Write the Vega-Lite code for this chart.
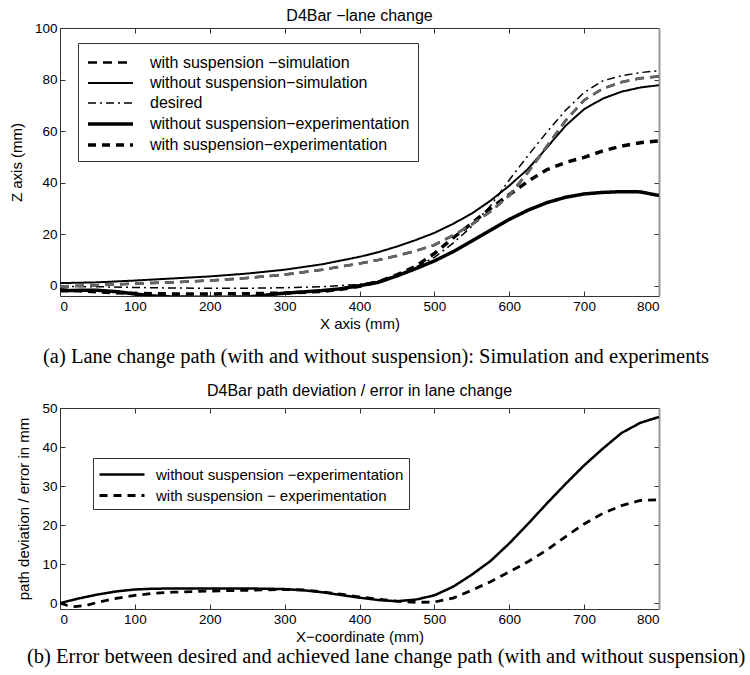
{
  "$schema": "https://vega.github.io/schema/vega-lite/v6.json",
  "background": "white",
  "padding": {"left": 9, "top": 8, "right": 5, "bottom": 5},
  "config": {
    "font": "Liberation Sans",
    "view": {"stroke": null},
    "axis": {"labelFont": "Liberation Sans", "labelFontSize": 13.5, "labelColor": "black", "titleFont": "Liberation Sans", "titleFontSize": 15, "titleFontWeight": "normal", "titleColor": "black", "domainColor": "#333", "tickColor": "#333", "tickSize": -5, "labelPadding": 8, "grid": false, "titlePadding": 4},
    "title": {"font": "Liberation Sans", "fontSize": 16, "fontWeight": "normal", "color": "black"},
    "legend": {"symbolType": "M-1,0H3.5", "symbolSize": 400, "symbolStrokeColor": "black", "labelFont": "Liberation Sans", "labelFontSize": 16, "labelColor": "black", "strokeColor": "#333", "fillColor": "white", "padding": 8, "rowPadding": 1, "labelOffset": 40, "title": null, "labelLimit": 400}
  },
  "datasets": {
    "top": [
      {"x": 0, "y": -0.3, "s": "with suspension −simulation"},
      {"x": 50, "y": 0.2, "s": "with suspension −simulation"},
      {"x": 100, "y": 0.8, "s": "with suspension −simulation"},
      {"x": 150, "y": 1.3, "s": "with suspension −simulation"},
      {"x": 200, "y": 2.0, "s": "with suspension −simulation"},
      {"x": 250, "y": 3.0, "s": "with suspension −simulation"},
      {"x": 300, "y": 4.3, "s": "with suspension −simulation"},
      {"x": 350, "y": 6.2, "s": "with suspension −simulation"},
      {"x": 400, "y": 8.6, "s": "with suspension −simulation"},
      {"x": 425, "y": 10.0, "s": "with suspension −simulation"},
      {"x": 450, "y": 11.6, "s": "with suspension −simulation"},
      {"x": 475, "y": 13.5, "s": "with suspension −simulation"},
      {"x": 500, "y": 15.8, "s": "with suspension −simulation"},
      {"x": 525, "y": 19.5, "s": "with suspension −simulation"},
      {"x": 550, "y": 23.8, "s": "with suspension −simulation"},
      {"x": 575, "y": 28.8, "s": "with suspension −simulation"},
      {"x": 600, "y": 35.0, "s": "with suspension −simulation"},
      {"x": 625, "y": 44.0, "s": "with suspension −simulation"},
      {"x": 650, "y": 54.0, "s": "with suspension −simulation"},
      {"x": 675, "y": 64.0, "s": "with suspension −simulation"},
      {"x": 700, "y": 72.0, "s": "with suspension −simulation"},
      {"x": 725, "y": 76.5, "s": "with suspension −simulation"},
      {"x": 750, "y": 79.0, "s": "with suspension −simulation"},
      {"x": 775, "y": 80.5, "s": "with suspension −simulation"},
      {"x": 800, "y": 81.2, "s": "with suspension −simulation"},
      {"x": 0, "y": 1.0, "s": "without suspension−simulation"},
      {"x": 50, "y": 1.3, "s": "without suspension−simulation"},
      {"x": 100, "y": 2.0, "s": "without suspension−simulation"},
      {"x": 150, "y": 2.8, "s": "without suspension−simulation"},
      {"x": 200, "y": 3.6, "s": "without suspension−simulation"},
      {"x": 250, "y": 4.7, "s": "without suspension−simulation"},
      {"x": 300, "y": 6.2, "s": "without suspension−simulation"},
      {"x": 350, "y": 8.3, "s": "without suspension−simulation"},
      {"x": 400, "y": 11.2, "s": "without suspension−simulation"},
      {"x": 425, "y": 13.0, "s": "without suspension−simulation"},
      {"x": 450, "y": 15.2, "s": "without suspension−simulation"},
      {"x": 475, "y": 17.7, "s": "without suspension−simulation"},
      {"x": 500, "y": 20.5, "s": "without suspension−simulation"},
      {"x": 525, "y": 24.0, "s": "without suspension−simulation"},
      {"x": 550, "y": 28.0, "s": "without suspension−simulation"},
      {"x": 575, "y": 33.0, "s": "without suspension−simulation"},
      {"x": 600, "y": 38.8, "s": "without suspension−simulation"},
      {"x": 625, "y": 45.3, "s": "without suspension−simulation"},
      {"x": 650, "y": 53.5, "s": "without suspension−simulation"},
      {"x": 675, "y": 62.0, "s": "without suspension−simulation"},
      {"x": 700, "y": 68.5, "s": "without suspension−simulation"},
      {"x": 725, "y": 72.6, "s": "without suspension−simulation"},
      {"x": 750, "y": 75.3, "s": "without suspension−simulation"},
      {"x": 775, "y": 76.9, "s": "without suspension−simulation"},
      {"x": 800, "y": 77.8, "s": "without suspension−simulation"},
      {"x": 0, "y": -0.3, "s": "desired"},
      {"x": 50, "y": -0.4, "s": "desired"},
      {"x": 100, "y": -0.7, "s": "desired"},
      {"x": 150, "y": -0.9, "s": "desired"},
      {"x": 200, "y": -1.0, "s": "desired"},
      {"x": 250, "y": -1.0, "s": "desired"},
      {"x": 300, "y": -0.8, "s": "desired"},
      {"x": 350, "y": -0.4, "s": "desired"},
      {"x": 400, "y": 0.5, "s": "desired"},
      {"x": 425, "y": 1.8, "s": "desired"},
      {"x": 450, "y": 4.0, "s": "desired"},
      {"x": 475, "y": 7.2, "s": "desired"},
      {"x": 500, "y": 11.0, "s": "desired"},
      {"x": 525, "y": 16.5, "s": "desired"},
      {"x": 550, "y": 23.0, "s": "desired"},
      {"x": 575, "y": 31.0, "s": "desired"},
      {"x": 600, "y": 41.0, "s": "desired"},
      {"x": 625, "y": 50.5, "s": "desired"},
      {"x": 650, "y": 59.5, "s": "desired"},
      {"x": 675, "y": 68.0, "s": "desired"},
      {"x": 700, "y": 75.0, "s": "desired"},
      {"x": 725, "y": 79.5, "s": "desired"},
      {"x": 750, "y": 81.5, "s": "desired"},
      {"x": 775, "y": 82.7, "s": "desired"},
      {"x": 800, "y": 83.4, "s": "desired"},
      {"x": 0, "y": -2.0, "s": "without suspension−experimentation"},
      {"x": 25, "y": -1.8, "s": "without suspension−experimentation"},
      {"x": 50, "y": -1.8, "s": "without suspension−experimentation"},
      {"x": 75, "y": -2.3, "s": "without suspension−experimentation"},
      {"x": 100, "y": -3.2, "s": "without suspension−experimentation"},
      {"x": 125, "y": -4.0, "s": "without suspension−experimentation"},
      {"x": 150, "y": -4.4, "s": "without suspension−experimentation"},
      {"x": 200, "y": -4.5, "s": "without suspension−experimentation"},
      {"x": 250, "y": -4.4, "s": "without suspension−experimentation"},
      {"x": 300, "y": -2.9, "s": "without suspension−experimentation"},
      {"x": 350, "y": -1.9, "s": "without suspension−experimentation"},
      {"x": 375, "y": -1.2, "s": "without suspension−experimentation"},
      {"x": 400, "y": 0.0, "s": "without suspension−experimentation"},
      {"x": 425, "y": 1.3, "s": "without suspension−experimentation"},
      {"x": 450, "y": 3.8, "s": "without suspension−experimentation"},
      {"x": 475, "y": 6.6, "s": "without suspension−experimentation"},
      {"x": 500, "y": 9.6, "s": "without suspension−experimentation"},
      {"x": 525, "y": 13.2, "s": "without suspension−experimentation"},
      {"x": 550, "y": 17.3, "s": "without suspension−experimentation"},
      {"x": 575, "y": 21.5, "s": "without suspension−experimentation"},
      {"x": 600, "y": 25.7, "s": "without suspension−experimentation"},
      {"x": 625, "y": 29.3, "s": "without suspension−experimentation"},
      {"x": 650, "y": 32.2, "s": "without suspension−experimentation"},
      {"x": 675, "y": 34.3, "s": "without suspension−experimentation"},
      {"x": 700, "y": 35.6, "s": "without suspension−experimentation"},
      {"x": 725, "y": 36.2, "s": "without suspension−experimentation"},
      {"x": 750, "y": 36.5, "s": "without suspension−experimentation"},
      {"x": 775, "y": 36.4, "s": "without suspension−experimentation"},
      {"x": 800, "y": 35.0, "s": "without suspension−experimentation"},
      {"x": 0, "y": -1.6, "s": "with suspension−experimentation"},
      {"x": 50, "y": -2.4, "s": "with suspension−experimentation"},
      {"x": 100, "y": -3.0, "s": "with suspension−experimentation"},
      {"x": 150, "y": -3.2, "s": "with suspension−experimentation"},
      {"x": 200, "y": -3.2, "s": "with suspension−experimentation"},
      {"x": 250, "y": -3.1, "s": "with suspension−experimentation"},
      {"x": 300, "y": -2.9, "s": "with suspension−experimentation"},
      {"x": 350, "y": -2.2, "s": "with suspension−experimentation"},
      {"x": 375, "y": -1.4, "s": "with suspension−experimentation"},
      {"x": 400, "y": -0.2, "s": "with suspension−experimentation"},
      {"x": 425, "y": 1.5, "s": "with suspension−experimentation"},
      {"x": 450, "y": 4.2, "s": "with suspension−experimentation"},
      {"x": 475, "y": 7.5, "s": "with suspension−experimentation"},
      {"x": 500, "y": 12.5, "s": "with suspension−experimentation"},
      {"x": 525, "y": 18.5, "s": "with suspension−experimentation"},
      {"x": 550, "y": 24.3, "s": "with suspension−experimentation"},
      {"x": 575, "y": 30.0, "s": "with suspension−experimentation"},
      {"x": 600, "y": 35.3, "s": "with suspension−experimentation"},
      {"x": 625, "y": 40.5, "s": "with suspension−experimentation"},
      {"x": 650, "y": 45.0, "s": "with suspension−experimentation"},
      {"x": 675, "y": 47.8, "s": "with suspension−experimentation"},
      {"x": 700, "y": 49.8, "s": "with suspension−experimentation"},
      {"x": 725, "y": 52.3, "s": "with suspension−experimentation"},
      {"x": 750, "y": 54.2, "s": "with suspension−experimentation"},
      {"x": 775, "y": 55.5, "s": "with suspension−experimentation"},
      {"x": 800, "y": 56.2, "s": "with suspension−experimentation"}
    ],
    "bottom": [
      {"x": 0, "y": 0.0, "e": "without suspension −experimentation"},
      {"x": 10, "y": 0.5, "e": "without suspension −experimentation"},
      {"x": 25, "y": 1.2, "e": "without suspension −experimentation"},
      {"x": 50, "y": 2.2, "e": "without suspension −experimentation"},
      {"x": 75, "y": 3.0, "e": "without suspension −experimentation"},
      {"x": 100, "y": 3.5, "e": "without suspension −experimentation"},
      {"x": 125, "y": 3.7, "e": "without suspension −experimentation"},
      {"x": 150, "y": 3.75, "e": "without suspension −experimentation"},
      {"x": 200, "y": 3.75, "e": "without suspension −experimentation"},
      {"x": 250, "y": 3.75, "e": "without suspension −experimentation"},
      {"x": 275, "y": 3.7, "e": "without suspension −experimentation"},
      {"x": 300, "y": 3.6, "e": "without suspension −experimentation"},
      {"x": 325, "y": 3.3, "e": "without suspension −experimentation"},
      {"x": 350, "y": 2.8, "e": "without suspension −experimentation"},
      {"x": 375, "y": 2.1, "e": "without suspension −experimentation"},
      {"x": 400, "y": 1.4, "e": "without suspension −experimentation"},
      {"x": 425, "y": 0.8, "e": "without suspension −experimentation"},
      {"x": 450, "y": 0.5, "e": "without suspension −experimentation"},
      {"x": 475, "y": 0.9, "e": "without suspension −experimentation"},
      {"x": 500, "y": 2.0, "e": "without suspension −experimentation"},
      {"x": 525, "y": 4.2, "e": "without suspension −experimentation"},
      {"x": 550, "y": 7.3, "e": "without suspension −experimentation"},
      {"x": 575, "y": 10.8, "e": "without suspension −experimentation"},
      {"x": 600, "y": 15.3, "e": "without suspension −experimentation"},
      {"x": 625, "y": 20.3, "e": "without suspension −experimentation"},
      {"x": 650, "y": 25.5, "e": "without suspension −experimentation"},
      {"x": 675, "y": 30.5, "e": "without suspension −experimentation"},
      {"x": 700, "y": 35.3, "e": "without suspension −experimentation"},
      {"x": 725, "y": 39.6, "e": "without suspension −experimentation"},
      {"x": 750, "y": 43.6, "e": "without suspension −experimentation"},
      {"x": 775, "y": 46.2, "e": "without suspension −experimentation"},
      {"x": 800, "y": 47.7, "e": "without suspension −experimentation"},
      {"x": 0, "y": 0.0, "e": "with suspension − experimentation"},
      {"x": 10, "y": -0.6, "e": "with suspension − experimentation"},
      {"x": 20, "y": -0.9, "e": "with suspension − experimentation"},
      {"x": 35, "y": -0.6, "e": "with suspension − experimentation"},
      {"x": 50, "y": 0.2, "e": "with suspension − experimentation"},
      {"x": 75, "y": 1.2, "e": "with suspension − experimentation"},
      {"x": 100, "y": 2.0, "e": "with suspension − experimentation"},
      {"x": 125, "y": 2.5, "e": "with suspension − experimentation"},
      {"x": 150, "y": 2.8, "e": "with suspension − experimentation"},
      {"x": 200, "y": 3.1, "e": "with suspension − experimentation"},
      {"x": 250, "y": 3.3, "e": "with suspension − experimentation"},
      {"x": 300, "y": 3.5, "e": "with suspension − experimentation"},
      {"x": 325, "y": 3.4, "e": "with suspension − experimentation"},
      {"x": 350, "y": 2.9, "e": "with suspension − experimentation"},
      {"x": 375, "y": 2.3, "e": "with suspension − experimentation"},
      {"x": 400, "y": 1.6, "e": "with suspension − experimentation"},
      {"x": 425, "y": 1.0, "e": "with suspension − experimentation"},
      {"x": 450, "y": 0.5, "e": "with suspension − experimentation"},
      {"x": 475, "y": 0.2, "e": "with suspension − experimentation"},
      {"x": 500, "y": 0.3, "e": "with suspension − experimentation"},
      {"x": 525, "y": 1.3, "e": "with suspension − experimentation"},
      {"x": 550, "y": 3.3, "e": "with suspension − experimentation"},
      {"x": 575, "y": 5.5, "e": "with suspension − experimentation"},
      {"x": 600, "y": 8.0, "e": "with suspension − experimentation"},
      {"x": 625, "y": 10.6, "e": "with suspension − experimentation"},
      {"x": 650, "y": 13.6, "e": "with suspension − experimentation"},
      {"x": 675, "y": 17.0, "e": "with suspension − experimentation"},
      {"x": 700, "y": 20.3, "e": "with suspension − experimentation"},
      {"x": 725, "y": 23.0, "e": "with suspension − experimentation"},
      {"x": 750, "y": 25.0, "e": "with suspension − experimentation"},
      {"x": 775, "y": 26.3, "e": "with suspension − experimentation"},
      {"x": 800, "y": 26.5, "e": "with suspension − experimentation"}
    ]
  },
  "spacing": 16,
  "resolve": {"scale": {"strokeDash": "independent", "strokeWidth": "independent"}, "legend": {"strokeDash": "independent", "strokeWidth": "independent"}},
  "vconcat": [
    {
      "title": {"text": "(a) Lane change path (with and without suspension): Simulation and experiments", "orient": "bottom", "anchor": "start", "frame": "group", "font": "Liberation Serif", "fontSize": 20.5, "fontWeight": "normal", "offset": 15, "dx": -17},
      "vconcat": [
        {
          "width": 599,
          "height": 268,
          "title": {"text": "D4Bar −lane change", "offset": -3},
          "data": {"name": "top"},
          "layer": [
            {
              "mark": {"type": "line", "clip": true, "color": "black"},
              "encoding": {
                "x": {"field": "x", "type": "quantitative", "scale": {"domain": [0, 800], "nice": false}, "axis": {"title": "X axis (mm)", "values": [0, 100, 200, 300, 400, 500, 600, 700, 800]}},
                "y": {"field": "y", "type": "quantitative", "scale": {"domain": [-4, 100], "nice": false, "zero": false}, "axis": {"title": "Z axis (mm)", "values": [0, 20, 40, 60, 80, 100], "titlePadding": 10}},
                "strokeDash": {"field": "s", "type": "nominal", "scale": {"domain": ["with suspension −simulation", "without suspension−simulation", "desired", "without suspension−experimentation", "with suspension−experimentation"], "range": [[9, 6], [1, 0], [8, 4, 2, 4], [1, 0], [8, 6]]}, "legend": {"orient": "none", "legendX": 18, "legendY": 15}},
                "strokeWidth": {"field": "s", "type": "nominal", "scale": {"type": "ordinal", "domain": ["with suspension −simulation", "without suspension−simulation", "desired", "without suspension−experimentation", "with suspension−experimentation"], "range": [2.5, 2, 1.5, 3.5, 3.5]}, "legend": {"orient": "none", "legendX": 18, "legendY": 15}}
              }
            },
            {
              "transform": [{"filter": "datum.s === 'with suspension −simulation'"}],
              "mark": {"type": "line", "clip": true, "color": "#666666", "strokeDash": [9, 6], "strokeWidth": 2.6},
              "encoding": {
                "x": {"field": "x", "type": "quantitative", "axis": null},
                "y": {"field": "y", "type": "quantitative", "axis": null}
              }
            },
            {
              "mark": {"type": "line", "strokeOpacity": 0},
              "encoding": {
                "x": {"field": "x", "type": "quantitative", "axis": {"orient": "top", "labels": false, "title": null, "values": [0, 100, 200, 300, 400, 500, 600, 700, 800]}},
                "y": {"field": "y", "type": "quantitative", "axis": {"orient": "right", "labels": false, "title": null, "values": [0, 20, 40, 60, 80, 100], "domainColor": "#999", "domainWidth": 2}},
                "detail": {"field": "s", "type": "nominal"}
              }
            }
          ],
          "resolve": {"axis": {"x": "independent", "y": "independent"}}
        }
      ]
    },
    {
      "title": {"text": "(b) Error between desired and achieved lane change path (with and without suspension)", "orient": "bottom", "anchor": "start", "frame": "group", "font": "Liberation Serif", "fontSize": 20.5, "fontWeight": "normal", "offset": 2, "dx": -33},
      "vconcat": [
        {
          "width": 599,
          "height": 201,
          "title": {"text": "D4Bar path deviation / error in lane change", "offset": 2},
          "data": {"name": "bottom"},
          "layer": [
            {
              "mark": {"type": "line", "clip": true, "color": "black"},
              "encoding": {
                "x": {"field": "x", "type": "quantitative", "scale": {"domain": [0, 800], "nice": false}, "axis": {"title": "X−coordinate (mm)", "values": [0, 100, 200, 300, 400, 500, 600, 700, 800]}},
                "y": {"field": "y", "type": "quantitative", "scale": {"domain": [-1.5, 50], "nice": false, "zero": false}, "axis": {"title": "path deviation / error in mm", "values": [0, 10, 20, 30, 40, 50], "titlePadding": 10}},
                "strokeDash": {"field": "e", "type": "nominal", "scale": {"domain": ["without suspension −experimentation", "with suspension − experimentation"], "range": [[1, 0], [8, 6]]}, "legend": {"orient": "none", "legendX": 33, "legendY": 50, "padding": 5, "labelFontSize": 15, "labelOffset": 35}},
                "strokeWidth": {"field": "e", "type": "nominal", "scale": {"type": "ordinal", "domain": ["without suspension −experimentation", "with suspension − experimentation"], "range": [2.5, 2.8]}, "legend": {"orient": "none", "legendX": 33, "legendY": 50, "padding": 5, "labelFontSize": 15, "labelOffset": 35}}
              }
            },
            {
              "mark": {"type": "line", "strokeOpacity": 0},
              "encoding": {
                "x": {"field": "x", "type": "quantitative", "axis": {"orient": "top", "labels": false, "title": null, "values": [0, 100, 200, 300, 400, 500, 600, 700, 800]}},
                "y": {"field": "y", "type": "quantitative", "axis": {"orient": "right", "labels": false, "title": null, "values": [0, 10, 20, 30, 40, 50], "domainColor": "#999", "domainWidth": 2}},
                "detail": {"field": "e", "type": "nominal"}
              }
            }
          ],
          "resolve": {"axis": {"x": "independent", "y": "independent"}}
        }
      ]
    }
  ]
}
